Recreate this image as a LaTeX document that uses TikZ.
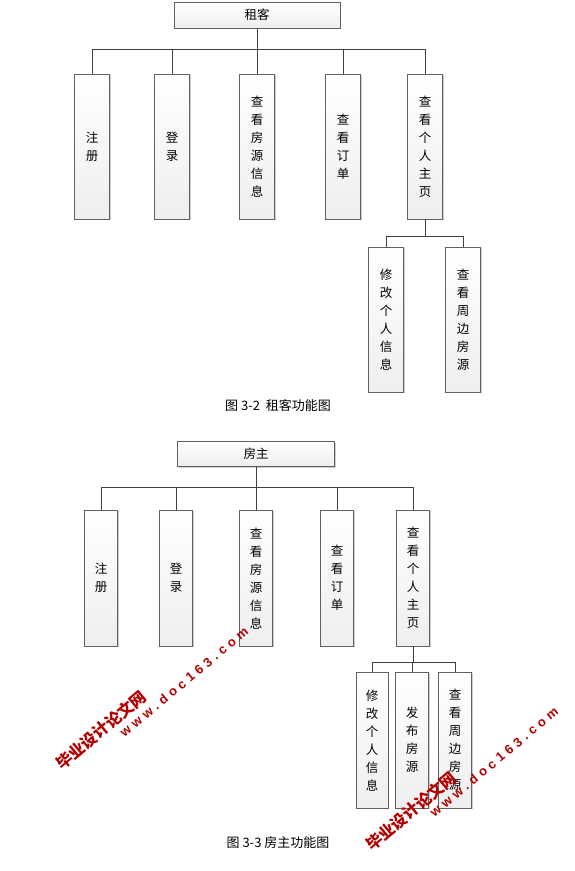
\documentclass[tikz,border=0pt]{standalone}
\usepackage{fontspec}
\usepackage{tikz}
\usetikzlibrary{shapes,arrows,positioning,shadows}
\newfontfamily\cjk{Noto Sans CJK SC}
\newfontfamily\wmfont[LetterSpace=32]{Liberation Sans Bold}

\begin{document}
\begin{tikzpicture}[
  x=1pt, y=-1pt,
  font=\cjk\fontsize{12.5}{18}\selectfont,
  every node/.style={inner sep=0pt},
  box/.style={
    draw=gray!75!black, top color=white, bottom color=gray!13,
    drop shadow={shadow xshift=1.2pt, shadow yshift=-1.2pt, fill=gray!55, opacity=.7},
    align=center, anchor=north, minimum width=35pt, minimum height=145pt},
  lbox/.style={box, minimum width=33pt, minimum height=136pt},
  head/.style={box, anchor=center, minimum height=26pt},
  link/.style={draw=black!75, line width=.8pt},
  caption/.style={font=\cjk\fontsize{13}{13}\selectfont},
  wm/.style={text=red!70!black, font=\cjk\bfseries\fontsize{16}{16}\selectfont, rotate=40},
  wmurl/.style={text=red!70!black, font=\wmfont\fontsize{13}{13}\selectfont, rotate=40},
]
\useasboundingbox (0,0) rectangle (575,871);

\node[head, minimum width=166pt] (t) at (257,15) {租客};
\node[box] (t-1) at (92,74) {注\\册};
\node[box] (t-2) at (172,74) {登\\录};
\node[box] (t-3) at (257,74) {查\\看\\房\\源\\信\\息};
\node[box] (t-4) at (343,74) {查\\看\\订\\单};
\node[box] (t-5) at (425,74) {查\\看\\个\\人\\主\\页};
\node[box] (t-6) at (386,247) {修\\改\\个\\人\\信\\息};
\node[box] (t-7) at (463,247) {查\\看\\周\\边\\房\\源};
\draw[link] (t.south) -- (t-3.north);
\draw[link] (t-1.north) -- ++(0,-25) -| (t-5.north);
\foreach \i in {2,4}
  \draw[link] (t-\i.north) -- ++(0,-25);
\draw[link] (t-5.south) -- ++(0,17);
\draw[link] (t-6.north) -- ++(0,-11) -| (t-7.north);
\node[caption] (cap-t) at (278,406) {图 3-2\ \ 租客功能图};

\node[head, minimum width=157pt, minimum height=25pt] (l) at (256,454) {房主};
\node[lbox] (l-1) at (101,510) {注\\册};
\node[lbox] (l-2) at (176,510) {登\\录};
\node[lbox] (l-3) at (256,510) {查\\看\\房\\源\\信\\息};
\node[lbox] (l-4) at (337,510) {查\\看\\订\\单};
\node[lbox] (l-5) at (413,510) {查\\看\\个\\人\\主\\页};
\node[lbox, minimum width=32pt] (l-6) at (372,672) {修\\改\\个\\人\\信\\息};
\node[lbox] (l-7) at (412,672) {发\\布\\房\\源};
\node[lbox] (l-8) at (455,672) {查\\看\\周\\边\\房\\源};
\draw[link] (l.south) -- (l-3.north);
\draw[link] (l-1.north) -- ++(0,-23) -| (l-5.north);
\foreach \i in {2,4}
  \draw[link] (l-\i.north) -- ++(0,-23);
\draw[link] (l-5.south) -- ++(0,16);
\draw[link] (l-6.north) -- ++(0,-10) -| (l-8.north);
\draw[link] (l-7.north) -- ++(0,-10);
\node[caption] (cap-l) at (278,843) {图 3-3\ 房主功能图};

\node[wm] (wm-1) at (101,730) {毕业设计论文网};
\node[wmurl] (wmurl-1) at (184,682) {www.doc163.com};
\node[wm] (wm-2) at (411,811) {毕业设计论文网};
\node[wmurl] (wmurl-2) at (494,762) {www.doc163.com};
\end{tikzpicture}
\end{document}
